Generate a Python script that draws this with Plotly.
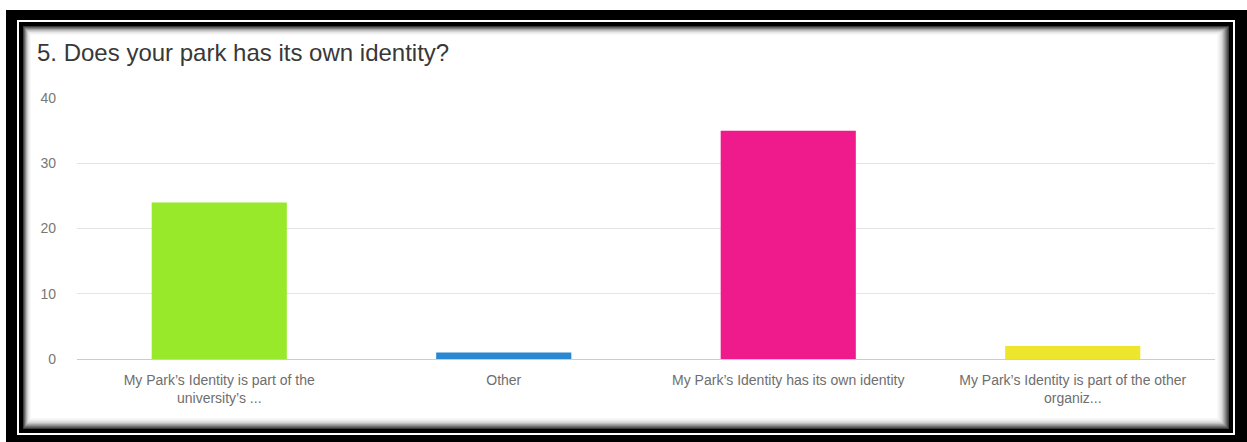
import plotly.graph_objects as go

# ---- data ----
categories = [
    "My Park’s Identity is part of the<br>university’s ...",
    "Other",
    "My Park’s Identity has its own identity",
    "My Park’s Identity is part of the other<br>organiz...",
]
values = [24, 1, 35, 2]
bar_colors = ["#97e92a", "#2a88d2", "#ef1a8b", "#ede62c"]
y_ticks = [0, 10, 20, 30, 40]
title_text = "5. Does your park has its own identity?"

W, H = 1247, 442

def px_x(x):
    return x / W

def px_y(y):
    return 1 - y / H

fig = go.Figure(
    go.Bar(
        x=categories,
        y=values,
        marker=dict(color=bar_colors, line=dict(width=0)),
        hoverinfo="skip",
    )
)

# frame shapes (pixel geometry converted to paper coords; margins are zero)
shapes = []
def rect(x0, y0, x1, y1, color):
    shapes.append(dict(
        type="rect", xref="paper", yref="paper",
        x0=px_x(x0), x1=px_x(x1), y0=px_y(y1), y1=px_y(y0),
        fillcolor=color, line=dict(width=0), layer="below",
    ))

rect(6, 10, 1247, 442, "#000000")
rect(17, 20, 1235, 435, "#ffffff")
rect(19, 22, 1233, 433, "#000000")
shade = ["#3a3a3a", "#5a5a5a", "#7a7a7a", "#999999", "#b4b4b4",
         "#cbcbcb", "#dddddd", "#eaeaea", "#f3f3f3", "#f9f9f9", "#ffffff"]
for i, c in enumerate(shade):
    rect(23 + i * 0.8, 26 + i * 0.9, 1229 - i * 1.2, 429 - i * 1.1, c)

fig.update_layout(
    template="none",
    width=W, height=H,
    margin=dict(l=0, r=0, t=0, b=0, pad=0, autoexpand=False),
    paper_bgcolor="#ffffff",
    plot_bgcolor="rgba(0,0,0,0)",
    shapes=shapes,
    showlegend=False,
    bargap=0.525,
    font=dict(family="Liberation Sans, Arial, sans-serif"),
    annotations=[dict(
        text=title_text, xref="paper", yref="paper",
        x=px_x(35), y=px_y(37), xanchor="left", yanchor="top",
        showarrow=False, font=dict(size=24, color="#383838"),
    )],
    xaxis=dict(
        domain=[px_x(77), px_x(1215)],
        automargin=False,
        showgrid=False, zeroline=False, showline=False,
        ticks="", ticklabelstandoff=11,
        tickfont=dict(size=14, color="#6e6e6e"),
        fixedrange=True,
    ),
    yaxis=dict(
        domain=[px_y(359), px_y(98)],
        automargin=False,
        range=[0, 40],
        tickvals=y_ticks,
        showgrid=True, gridcolor="#e4e4e4", gridwidth=1,
        zeroline=True, zerolinecolor="#cccccc", zerolinewidth=1,
        showline=False, ticks="", ticklabelstandoff=20,
        tickfont=dict(size=14, color="#777777"),
        fixedrange=True,
    ),
)

fig.write_html("out.html")
